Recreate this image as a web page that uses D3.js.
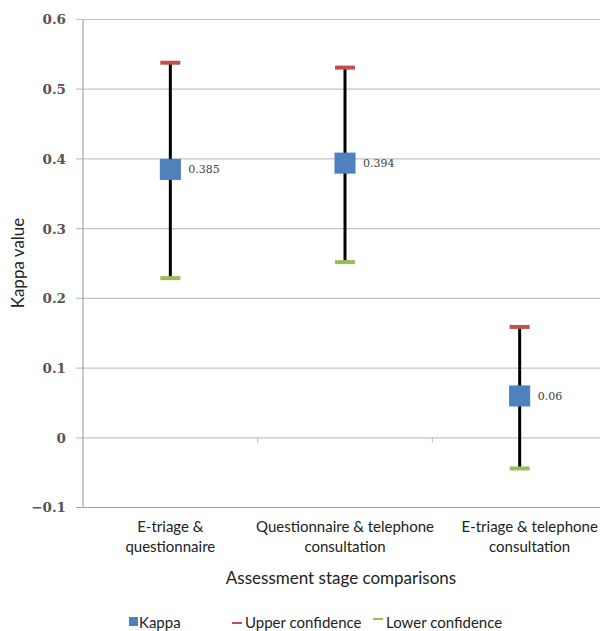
<!DOCTYPE html>
<html>
<head>
<meta charset="utf-8">
<script src="https://cdn.jsdelivr.net/npm/d3@7"></script>
<style>
  body { margin: 0; background: #fff; }
  svg { display: block; }
</style>
</head>
<body>
<div id="chart"></div>
<script>
// data
const categories = [
  ["E-triage &", "questionnaire"],
  ["Questionnaire & telephone", "consultation"],
  ["E-triage & telephone", "consultation"]
];
const kappa = [0.385, 0.394, 0.06];
const upperCI = [0.538, 0.531, 0.159];
const lowerCI = [0.229, 0.252, -0.044];
const yTicks = [-0.1, 0, 0.1, 0.2, 0.3, 0.4, 0.5, 0.6];

const width = 600, height = 631;
const margin = { top: 19.5, left: 83, bottom: 123.5, right: -7 };

const svg = d3.select("#chart").append("svg")
  .attr("width", width)
  .attr("height", height);

const x = d3.scaleBand()
  .domain(d3.range(categories.length))
  .range([margin.left, width - margin.right])
  .padding(0);

const y = d3.scaleLinear()
  .domain([-0.1, 0.6])
  .range([height - margin.bottom, margin.top]);

// gridlines
svg.append("g")
  .selectAll("line")
  .data(yTicks)
  .join("line")
  .attr("x1", margin.left - 7)
  .attr("x2", width)
  .attr("y1", d => y(d))
  .attr("y2", d => y(d))
  .attr("stroke", d => d === -0.1 ? "#a6a6a6" : "#c4c4c4")
  .attr("stroke-width", 1.2);

// y axis line
svg.append("line")
  .attr("x1", margin.left).attr("x2", margin.left)
  .attr("y1", y(0.6)).attr("y2", y(-0.1))
  .attr("stroke", "#a6a6a6")
  .attr("stroke-width", 1.2);

// tick labels
svg.append("g")
  .selectAll("text")
  .data(yTicks)
  .join("text")
  .attr("x", 66)
  .attr("y", d => y(d))
  .attr("dy", "0.36em")
  .attr("text-anchor", "end")
  .attr("font-family", "DejaVu Serif")
  .attr("font-weight", "bold")
  .attr("font-size", 13.5)
  .attr("fill", "#555")
  .text(d => d < 0 ? "\u2212" + Math.abs(d) : d);

// small category ticks on the zero line
svg.append("g")
  .selectAll("line")
  .data(d3.range(1, categories.length))
  .join("line")
  .attr("x1", d => x(d)).attr("x2", d => x(d))
  .attr("y1", y(0)).attr("y2", y(0) + 5)
  .attr("stroke", "#bbb")
  .attr("stroke-width", 1);

// error bars
const cx = i => x(i) + x.bandwidth() / 2;
const bars = svg.append("g")
  .selectAll("g")
  .data(kappa.map((k, i) => ({ k, i, up: upperCI[i], lo: lowerCI[i] })))
  .join("g");

bars.append("line")
  .attr("x1", d => cx(d.i)).attr("x2", d => cx(d.i))
  .attr("y1", d => y(d.up)).attr("y2", d => y(d.lo))
  .attr("stroke", "#000")
  .attr("stroke-width", 3);

bars.append("line")
  .attr("x1", d => cx(d.i) - 10).attr("x2", d => cx(d.i) + 10)
  .attr("y1", d => y(d.up)).attr("y2", d => y(d.up))
  .attr("stroke", "#c0504d")
  .attr("stroke-width", 4);

bars.append("line")
  .attr("x1", d => cx(d.i) - 10).attr("x2", d => cx(d.i) + 10)
  .attr("y1", d => y(d.lo)).attr("y2", d => y(d.lo))
  .attr("stroke", "#9bbb59")
  .attr("stroke-width", 4);

bars.append("rect")
  .attr("x", d => cx(d.i) - 10)
  .attr("y", d => y(d.k) - 10)
  .attr("width", 20)
  .attr("height", 20)
  .attr("fill", "#4f81bd")
  .attr("stroke", "#4a7ebb")
  .attr("stroke-width", 1);

bars.append("text")
  .attr("x", d => cx(d.i) + 18)
  .attr("y", d => y(d.k))
  .attr("dy", "0.36em")
  .attr("font-family", "DejaVu Serif")
  .attr("font-size", 11)
  .attr("fill", "#404040")
  .text(d => d.k);

// category labels
svg.append("g")
  .selectAll("text")
  .data(categories)
  .join("text")
  .attr("text-anchor", "middle")
  .attr("font-family", "Lato")
  .attr("font-size", 15)
  .attr("fill", "#222")
  .each(function (d, i) {
    d3.select(this).selectAll("tspan")
      .data(d)
      .join("tspan")
      .attr("x", i === 2 ? cx(i) + 10 : cx(i))
      .attr("y", (t, j) => 532 + j * 20)
      .text(t => t);
  });

// axis titles
svg.append("text")
  .attr("x", 341)
  .attr("y", 584)
  .attr("text-anchor", "middle")
  .attr("font-family", "Lato")
  .attr("font-size", 17)
  .attr("fill", "#222")
  .text("Assessment stage comparisons");

svg.append("text")
  .attr("transform", "translate(24,263) rotate(-90)")
  .attr("text-anchor", "middle")
  .attr("font-family", "Lato")
  .attr("font-size", 17)
  .attr("fill", "#222")
  .text("Kappa value");

// legend
const legend = svg.append("g").attr("font-family", "Lato").attr("font-size", 15).attr("fill", "#222");
legend.append("rect").attr("x", 129).attr("y", 617).attr("width", 9).attr("height", 9).attr("fill", "#4f81bd");
legend.append("text").attr("x", 139).attr("y", 628).text("Kappa");
legend.append("line").attr("x1", 232).attr("x2", 242).attr("y1", 623).attr("y2", 623).attr("stroke", "#c0504d").attr("stroke-width", 2);
legend.append("text").attr("x", 245).attr("y", 628).text("Upper confidence");
legend.append("line").attr("x1", 373).attr("x2", 383).attr("y1", 619).attr("y2", 619).attr("stroke", "#9bbb59").attr("stroke-width", 2);
legend.append("text").attr("x", 386).attr("y", 628).text("Lower confidence");
</script>
</body>
</html>
